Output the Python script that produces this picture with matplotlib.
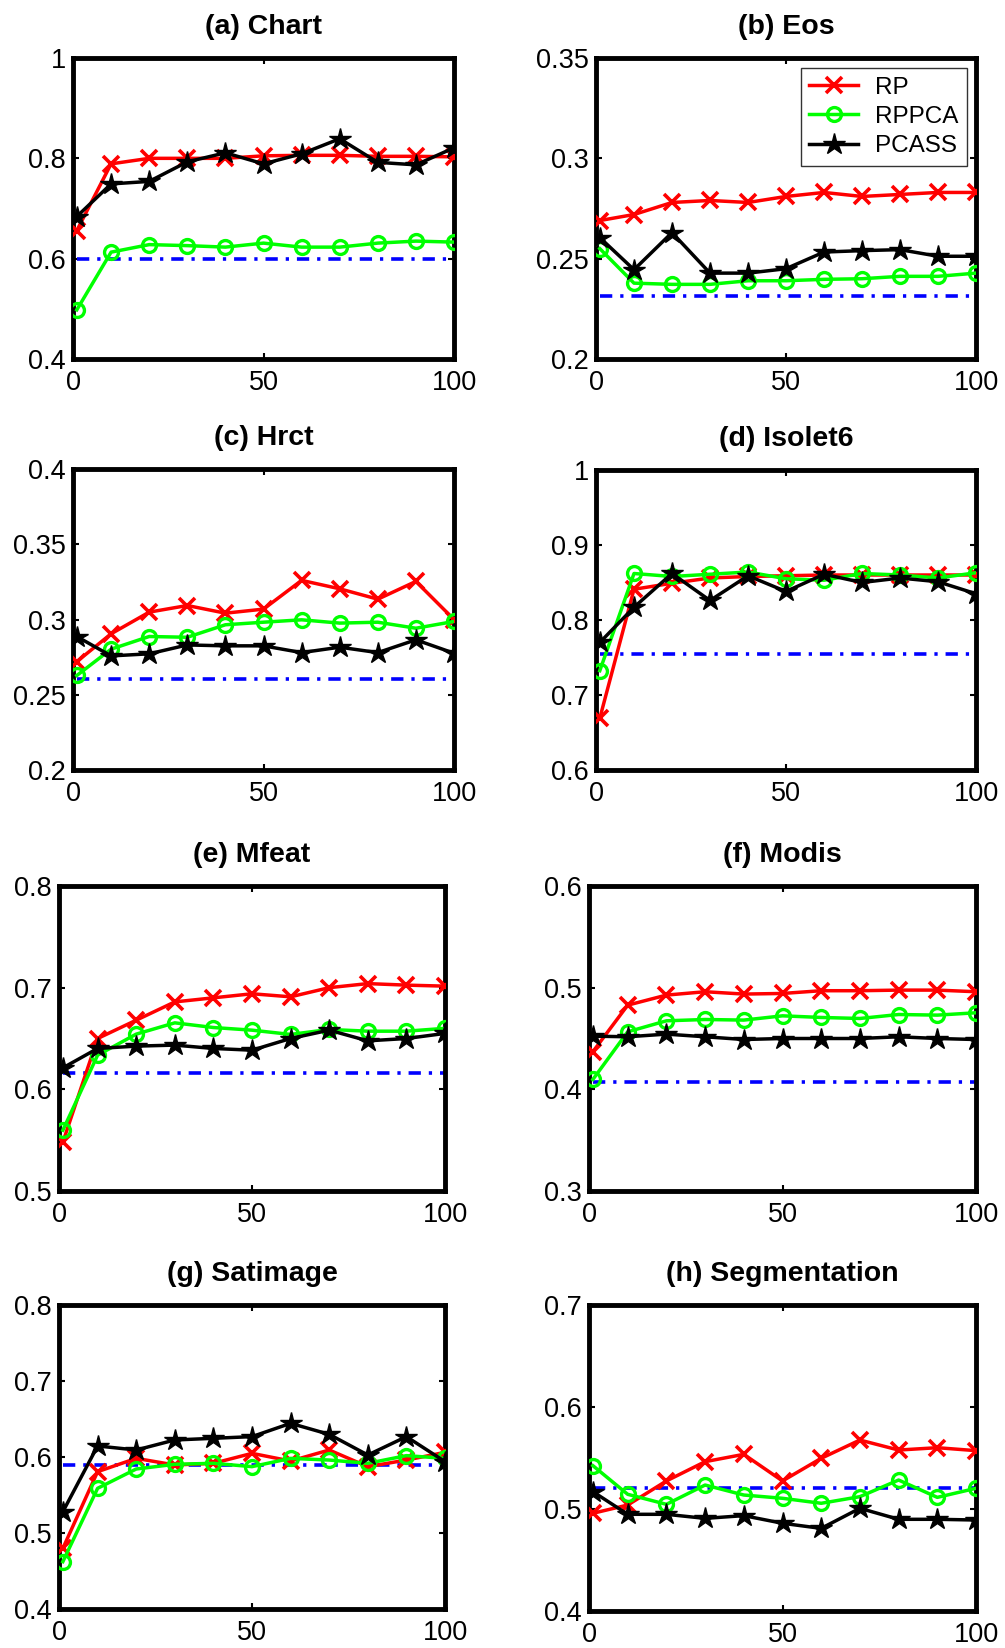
import matplotlib
matplotlib.use("Agg")
import matplotlib.pyplot as plt
from matplotlib.ticker import FormatStrFormatter, FixedLocator

plt.rcParams['font.family'] = ['Liberation Sans', 'DejaVu Sans']

x = [1, 10, 20, 30, 40, 50, 60, 70, 80, 90, 100]
titles = ["(a) Chart", "(b) Eos", "(c) Hrct", "(d) Isolet6",
          "(e) Mfeat", "(f) Modis", "(g) Satimage", "(h) Segmentation"]
methods = ["RP", "RPPCA", "PCASS"]

rp_chart = [0.656, 0.789, 0.80, 0.80, 0.80, 0.805, 0.806, 0.806, 0.804, 0.804, 0.803]
rppca_chart = [0.498, 0.613, 0.628, 0.626, 0.623, 0.631, 0.623, 0.623, 0.631, 0.635, 0.633]
pcass_chart = [0.684, 0.749, 0.754, 0.793, 0.811, 0.789, 0.809, 0.839, 0.792, 0.787, 0.821]

rp_eos = [0.269, 0.272, 0.278, 0.279, 0.278, 0.281, 0.283, 0.281, 0.282, 0.283, 0.283]
rppca_eos = [0.255, 0.2378, 0.2372, 0.2372, 0.239, 0.239, 0.2397, 0.240, 0.2412, 0.2412, 0.2428]
pcass_eos = [0.2605, 0.2445, 0.263, 0.2428, 0.2428, 0.245, 0.2533, 0.254, 0.2545, 0.2512, 0.2512]

rp_hrct = [0.272, 0.2905, 0.3049, 0.3093, 0.3042, 0.3069, 0.326, 0.3204, 0.3135, 0.3253, 0.300]
rppca_hrct = [0.2628, 0.2803, 0.2887, 0.2882, 0.2965, 0.2982, 0.2998, 0.2976, 0.2982, 0.2942, 0.2987]
pcass_hrct = [0.2887, 0.2758, 0.2772, 0.2831, 0.2825, 0.2825, 0.278, 0.2816, 0.278, 0.2865, 0.2776]

rp_isolet = [0.669, 0.841, 0.849, 0.856, 0.858, 0.859, 0.860, 0.860, 0.860, 0.860, 0.860]
rppca_isolet = [0.7324, 0.862, 0.858, 0.861, 0.864, 0.855, 0.853, 0.862, 0.860, 0.856, 0.863]
pcass_isolet = [0.770, 0.817, 0.862, 0.826, 0.859, 0.838, 0.861, 0.850, 0.856, 0.851, 0.835]

rp_mfeat = [0.548, 0.650, 0.668, 0.686, 0.690, 0.694, 0.691, 0.700, 0.704, 0.7025, 0.7015]
rppca_mfeat = [0.5598, 0.6336, 0.6543, 0.6654, 0.6608, 0.6582, 0.654, 0.6589, 0.6572, 0.6572, 0.660]
pcass_mfeat = [0.6211, 0.6402, 0.6425, 0.6435, 0.6402, 0.6385, 0.650, 0.6582, 0.6477, 0.650, 0.655]

rp_modis = [0.437, 0.4828, 0.4927, 0.496, 0.4937, 0.4943, 0.497, 0.497, 0.4976, 0.4976, 0.496]
rppca_modis = [0.4097, 0.4566, 0.4674, 0.4687, 0.4681, 0.4723, 0.4707, 0.4697, 0.4736, 0.473, 0.4753]
pcass_modis = [0.4523, 0.4517, 0.4543, 0.4517, 0.449, 0.450, 0.450, 0.450, 0.4517, 0.450, 0.449]

rp_satimage = [0.4798, 0.5807, 0.5982, 0.5895, 0.5917, 0.6048, 0.5947, 0.6092, 0.5873, 0.596, 0.6061]
rppca_satimage = [0.4623, 0.5588, 0.5842, 0.5904, 0.5917, 0.5873, 0.5982, 0.596, 0.5917, 0.6018, 0.5982]
pcass_satimage = [0.528, 0.6145, 0.6092, 0.6224, 0.6246, 0.6268, 0.6443, 0.6298, 0.6026, 0.6268, 0.5939]

rp_seg = [0.4958, 0.5039, 0.5275, 0.5464, 0.5536, 0.5275, 0.5497, 0.5676, 0.5578, 0.5601, 0.5572]
rppca_seg = [0.5425, 0.5144, 0.5046, 0.5235, 0.5137, 0.5105, 0.5056, 0.5121, 0.5284, 0.5114, 0.5203]
pcass_seg = [0.517, 0.4948, 0.4948, 0.4908, 0.4935, 0.486, 0.481, 0.5007, 0.4899, 0.4899, 0.4892]

baselines = [0.600, 0.2312, 0.2603, 0.754, 0.6156, 0.4074, 0.5895, 0.5203]

rp_all = [rp_chart, rp_eos, rp_hrct, rp_isolet, rp_mfeat, rp_modis, rp_satimage, rp_seg]
rppca_all = [rppca_chart, rppca_eos, rppca_hrct, rppca_isolet, rppca_mfeat, rppca_modis, rppca_satimage, rppca_seg]
pcass_all = [pcass_chart, pcass_eos, pcass_hrct, pcass_isolet, pcass_mfeat, pcass_modis, pcass_satimage, pcass_seg]

yticks_all = [
    [0.4, 0.6, 0.8, 1.0],
    [0.2, 0.25, 0.3, 0.35],
    [0.2, 0.25, 0.3, 0.35, 0.4],
    [0.6, 0.7, 0.8, 0.9, 1.0],
    [0.5, 0.6, 0.7, 0.8],
    [0.3, 0.4, 0.5, 0.6],
    [0.4, 0.5, 0.6, 0.7, 0.8],
    [0.4, 0.5, 0.6, 0.7],
]
xticks = [0, 50, 100]

# axes pixel boxes (left, right, top, bottom) in a 1005x1648 figure
boxes = [
    (73, 454, 58, 359), (596, 976, 58, 359),
    (73, 454, 469, 770), (596, 976, 470, 770),
    (59, 445, 886, 1191), (589, 976, 886, 1191),
    (59, 445, 1305, 1609), (589, 976, 1305, 1611),
]

W, H = 1005, 1648
fig = plt.figure(figsize=(W / 100, H / 100), dpi=100)

for i in range(8):
    l, r, t, b = boxes[i]
    ax = fig.add_axes([l / W, 1 - b / H, (r - l) / W, (b - t) / H])
    ax.plot([x[0], x[-1]], [baselines[i], baselines[i]], color=(0, 0, 1), lw=2.6,
            dashes=[3.4, 2.2, 0.9, 2.2], zorder=2)
    ax.plot(x, rp_all[i], color=(1, 0, 0), lw=2.5, marker='x', ms=11, mew=2.6,
            label=methods[0], zorder=3)
    ax.plot(x, rppca_all[i], color=(0, 1, 0), lw=2.5, marker='o', ms=10, mew=2.4,
            mfc='none', label=methods[1], zorder=4)
    ax.plot(x, pcass_all[i], color='black', lw=2.5, marker='*', ms=16, mew=1,
            label=methods[2], zorder=5)
    yt = yticks_all[i]
    ax.set_xlim(0, 100)
    ax.set_ylim(yt[0], yt[-1])
    ax.xaxis.set_major_locator(FixedLocator(xticks))
    ax.yaxis.set_major_locator(FixedLocator(yt))
    ax.yaxis.set_major_formatter(FormatStrFormatter('%g'))
    ax.tick_params(direction='in', top=True, right=True, length=4, width=1.5,
                   labelsize=19.5)
    ax.tick_params(axis='x', pad=8)
    ax.tick_params(axis='y', pad=5)
    for s in ax.spines.values():
        s.set_linewidth(3.5)
    ax.set_title(titles[i], fontsize=20.5, fontweight='bold', pad=17)
    if i == 1:
        leg = ax.legend(loc='upper right', bbox_to_anchor=(1 - 9 / 380, 1 - 10 / 301),
                        borderaxespad=0, fontsize=17.5, frameon=True, fancybox=False,
                        edgecolor='black', handlelength=2.0, handletextpad=0.7,
                        labelspacing=0.3, borderpad=0.35)
        leg.get_frame().set_linewidth(1.0)

fig.savefig("out.png", dpi=100)
